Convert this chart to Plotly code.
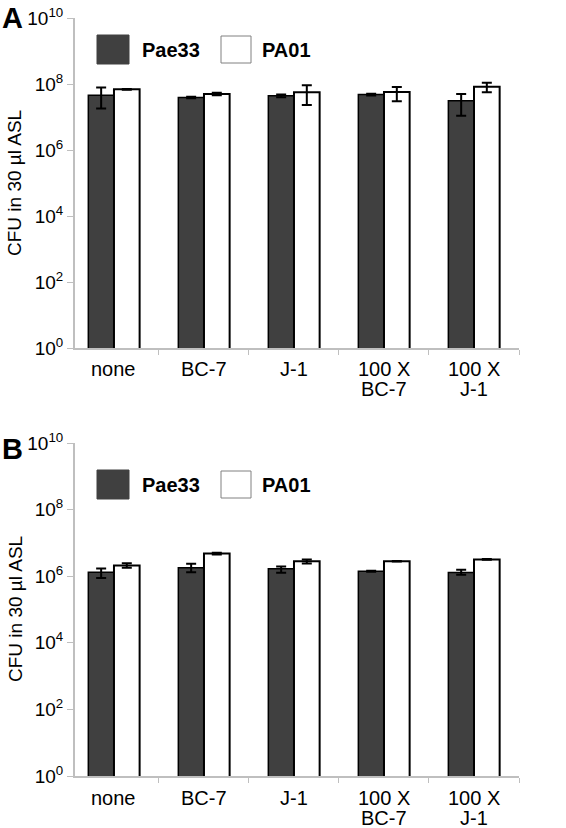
import plotly.graph_objects as go

categories = ["none", "BC-7", "J-1", "100 X<br>BC-7", "100 X<br>J-1"]
series_names = ["Pae33", "PA01"]

# Panel A values (CFU in 30 ul ASL)
a_pae33 = [4.6e7, 3.9e7, 4.4e7, 4.8e7, 3.1e7]
a_pae33_up = [3.2e7, 2e6, 4e6, 3e6, 1.9e7]
a_pae33_dn = [2.8e7, 2e6, 4e6, 3e6, 2.0e7]
a_pa01 = [6.9e7, 5.0e7, 5.6e7, 5.7e7, 8.3e7]
a_pa01_up = [2e6, 4e6, 3.5e7, 2.4e7, 2.7e7]
a_pa01_dn = [2e6, 4e6, 3.3e7, 2.7e7, 2.7e7]

# Panel B values
b_pae33 = [1.32e6, 1.78e6, 1.66e6, 1.41e6, 1.29e6]
b_pae33_up = [3.8e5, 5.7e5, 2.9e5, 4e4, 2.6e5]
b_pae33_dn = [4.3e5, 4.6e5, 4.0e5, 4e4, 1.9e5]
b_pa01 = [2.1e6, 4.8e6, 2.8e6, 2.8e6, 3.2e6]
b_pa01_up = [3.5e5, 3e5, 4e5, 5e4, 1e5]
b_pa01_dn = [3e5, 3e5, 4e5, 5e4, 1e5]

tick_vals = [1, 1e2, 1e4, 1e6, 1e8, 1e10]
tick_text = ["10<sup>0</sup>", "10<sup>2</sup>", "10<sup>4</sup>", "10<sup>6</sup>",
             "10<sup>8</sup>", "10<sup>10</sup>"]

W, H = 566, 828
FONT = "Liberation Sans, Arial, sans-serif"
DARK = "#404040"


def px(xp):
    return xp / W


def py(yp):
    return 1 - yp / H


fig = go.Figure()

panels = [
    ("x", "y", a_pae33, a_pae33_up, a_pae33_dn, a_pa01, a_pa01_up, a_pa01_dn),
    ("x2", "y2", b_pae33, b_pae33_up, b_pae33_dn, b_pa01, b_pa01_up, b_pa01_dn),
]
for xa, ya, d, du, dd, w, wu, wd in panels:
    fig.add_trace(go.Bar(
        x=categories, y=d, name=series_names[0], xaxis=xa, yaxis=ya,
        marker=dict(color=DARK, line=dict(color="#000000", width=1.5)),
        error_y=dict(type="data", array=du, arrayminus=dd, color="#000000",
                     thickness=2, width=5),
        showlegend=False))
    fig.add_trace(go.Bar(
        x=categories, y=w, name=series_names[1], xaxis=xa, yaxis=ya,
        marker=dict(color="#ffffff", line=dict(color="#000000", width=2)),
        error_y=dict(type="data", array=wu, arrayminus=wd, color="#000000",
                     thickness=2, width=5),
        showlegend=False))

xaxis_common = dict(
    type="category", range=[-0.433, 4.5], showline=True, linecolor="#bfbfbf",
    linewidth=2, ticks="outside", tickson="boundaries", ticklen=5,
    tickcolor="#bfbfbf", tickwidth=1, showticklabels=False,
    showgrid=False, zeroline=False, automargin=False, domain=[px(75), px(519)])
yaxis_common = dict(
    type="log", range=[0, 10], tickvals=tick_vals, ticktext=tick_text,
    showline=True, linecolor="#bfbfbf", linewidth=2, ticks="outside",
    ticklen=6, tickcolor="#bfbfbf", tickwidth=1, ticklabeloverflow="allow",
    tickfont=dict(family=FONT, size=19, color="#000000"),
    showgrid=False, zeroline=False, automargin=False)

fig.update_layout(
    width=W, height=H,
    margin=dict(l=0, r=0, t=0, b=0),
    paper_bgcolor="#ffffff", plot_bgcolor="#ffffff",
    barmode="group", bargap=0.43, bargroupgap=0,
    xaxis=dict(**xaxis_common, anchor="y"),
    yaxis=dict(**yaxis_common, domain=[py(348), py(18)], anchor="x"),
    xaxis2=dict(**xaxis_common, anchor="y2"),
    yaxis2=dict(**yaxis_common, domain=[py(776), py(443)], anchor="x2"),
    font=dict(family=FONT, color="#000000"),
)

shapes = []
annotations = []
for xref, letter, letter_y, ytitle, leg_top, lab_y in [
        ("x", "A", 18, 183, 35, 369), ("x2", "B", 449, 609, 470, 798)]:
    # legend boxes
    shapes.append(dict(type="rect", xref="paper", yref="paper",
                       x0=px(97), x1=px(129), y0=py(leg_top + 29), y1=py(leg_top),
                       fillcolor=DARK, line=dict(color=DARK, width=1)))
    shapes.append(dict(type="rect", xref="paper", yref="paper",
                       x0=px(221), x1=px(251), y0=py(leg_top + 28), y1=py(leg_top + 1),
                       fillcolor="#ffffff", line=dict(color="#808080", width=1)))
    annotations.append(dict(text="<b>" + series_names[0] + "</b>", xref="paper", yref="paper",
                            x=px(140), y=py(leg_top + 15), xanchor="left", yanchor="middle",
                            showarrow=False, font=dict(family=FONT, size=20, color="#000000")))
    annotations.append(dict(text="<b>" + series_names[1] + "</b>", xref="paper", yref="paper",
                            x=px(260), y=py(leg_top + 15), xanchor="left", yanchor="middle",
                            showarrow=False, font=dict(family=FONT, size=20, color="#000000")))
    # panel letter
    annotations.append(dict(text="<b>" + letter + "</b>", xref="paper", yref="paper",
                            x=0, y=py(letter_y), xanchor="left", yanchor="middle",
                            showarrow=False, font=dict(family=FONT, size=29, color="#000000")))
    # y axis title
    annotations.append(dict(text="CFU in 30 \u00b5l ASL", xref="paper", yref="paper",
                            x=px(15), y=py(ytitle), xanchor="center", yanchor="middle",
                            textangle=-90, showarrow=False,
                            font=dict(family=FONT, size=19, color="#000000")))
    # category labels (one annotation per text line)
    for i, cat in enumerate(categories):
        for j, line in enumerate(cat.split("<br>")):
            annotations.append(dict(text=line, xref=xref, yref="paper",
                                    x=i, y=py(lab_y + 20 * j), xanchor="center",
                                    yanchor="middle", showarrow=False,
                                    font=dict(family=FONT, size=20, color="#000000")))

fig.update_layout(shapes=shapes, annotations=annotations)

# remove the browser's default 8px page margin so the figure fills the window exactly
fig.write_html("out.html", config={"displayModeBar": False},
               post_script="document.body.style.margin='0px';")
